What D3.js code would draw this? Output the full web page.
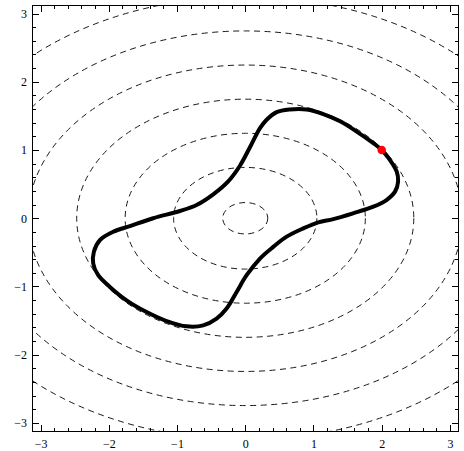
<!DOCTYPE html>
<html>
<head>
<meta charset="utf-8">
<script src="https://cdn.jsdelivr.net/npm/d3@7"></script>
<style>
  body { margin: 0; background: #fff; }
</style>
</head>
<body>
<script>
// contour ellipses (semi axes in data units, centred at the origin)
var contourRx = [0.33, 1.05, 1.76, 2.47, 3.18, 3.88, 4.59];
var contourRy = [0.23, 0.745, 1.245, 1.745, 2.245, 2.745, 3.245];

// the thick closed curve
var curveX = [-0.957, -0.713, -0.469, -0.25, -0.078, 0.069, 0.216, 0.31, 0.46, 0.655,
              0.9, 1.144, 1.39, 1.633, 1.877, 2.0, 2.12, 2.22, 2.24, 2.195,
              2.07, 1.877, 1.58, 1.29, 1.07, 0.85, 0.607, 0.41, 0.216, 0.02,
              -0.126, -0.273, -0.42, -0.616, -0.86, -1.152, -1.446, -1.74, -1.984, -2.155,
              -2.228, -2.218, -2.13, -1.935, -1.69, -1.349];
var curveY = [0.106, 0.194, 0.35, 0.54, 0.77, 1.04, 1.32, 1.44, 1.556, 1.595,
              1.595, 1.527, 1.42, 1.27, 1.10, 1.0, 0.855, 0.683, 0.536, 0.39,
              0.267, 0.169, 0.072, -0.012, -0.06, -0.149, -0.27, -0.42, -0.59, -0.835,
              -1.08, -1.324, -1.471, -1.57, -1.584, -1.506, -1.374, -1.202, -1.006, -0.835,
              -0.663, -0.49, -0.32, -0.198, -0.115, 0];

var pointX = [2];
var pointY = [1];

var majorTicks = [-3, -2, -1, 0, 1, 2, 3];
var minorTicks = [-2.8, -2.6, -2.4, -2.2, -1.8, -1.6, -1.4, -1.2, -0.8, -0.6, -0.4, -0.2,
                  0.2, 0.4, 0.6, 0.8, 1.2, 1.4, 1.6, 1.8, 2.2, 2.4, 2.6, 2.8];

var width = 464,
    height = 451;

var margin = {
    top: 5,
    bottom: 19.5,
    left: 32,
    right: 5.5,
};

var x = d3.scaleLinear()
    .domain([-3.125, 3.125])
    .range([margin.left, width - margin.right]);

var y = d3.scaleLinear()
    .domain([-3.125, 3.125])
    .range([height - margin.bottom, margin.top]);

var svg = d3.select("body").append("svg")
    .attr("width", width)
    .attr("height", height);

svg.append("clipPath")
    .attr("id", "plot-clip")
  .append("rect")
    .attr("x", x.range()[0])
    .attr("y", y.range()[1])
    .attr("width", x.range()[1] - x.range()[0])
    .attr("height", y.range()[0] - y.range()[1]);

var plot = svg.append("g")
    .attr("clip-path", "url(#plot-clip)");

// dashed contours
plot.selectAll(".contour")
    .data(contourRx)
  .enter().append("ellipse")
    .attr("class", "contour")
    .attr("cx", x(0))
    .attr("cy", y(0))
    .attr("rx", function(d) { return x(d) - x(0); })
    .attr("ry", function(d, i) { return y(0) - y(contourRy[i]); })
    .attr("fill", "none")
    .attr("stroke", "#1a1a1a")
    .attr("stroke-width", 1)
    .attr("stroke-dasharray", "6,4.5");

var pts = curveX.map(function(d, i) { return [d, curveY[i]]; });

var line = d3.line()
    .x(function(d) { return x(d[0]); })
    .y(function(d) { return y(d[1]); })
    .curve(d3.curveCatmullRomClosed.alpha(0.5));

plot.append("path")
    .datum(pts)
    .attr("d", line)
    .attr("fill", "none")
    .attr("stroke", "#000")
    .attr("stroke-width", 4)
    .attr("stroke-linejoin", "round");

plot.selectAll(".dot")
    .data(pointX)
  .enter().append("circle")
    .attr("class", "dot")
    .attr("cx", function(d) { return x(d); })
    .attr("cy", function(d, i) { return y(pointY[i]); })
    .attr("r", 4.3)
    .attr("fill", "#ff0000");

// frame ticks, inward, on all four sides
var fmt = d3.format("d");
var bottom = height - margin.bottom,
    right = width - margin.right;

function frameAxis(axis, pos, values, size, labels) {
    var g = svg.append("g")
        .attr("transform", pos)
        .call(axis.tickValues(values).tickSize(-size).tickPadding(labels ? labels : 3)
            .tickFormat(labels ? fmt : ""));
    g.attr("font-family", "'Liberation Serif', 'Times New Roman', serif")
        .attr("font-size", 12);
    g.select(".domain").remove();
    g.selectAll(".tick line")
        .attr("stroke", "#000")
        .attr("stroke-width", 1)
        .attr("shape-rendering", "crispEdges");
    g.selectAll(".tick text").attr("fill", "#000");
    return g;
}

frameAxis(d3.axisBottom(x), "translate(0," + bottom + ")", majorTicks, 6.5, 7.5);
frameAxis(d3.axisBottom(x), "translate(0," + bottom + ")", minorTicks, 3.5);
frameAxis(d3.axisLeft(y), "translate(" + margin.left + ",0)", majorTicks, 6.5, 5);
frameAxis(d3.axisLeft(y), "translate(" + margin.left + ",0)", minorTicks, 3.5);
frameAxis(d3.axisTop(x), "translate(0," + margin.top + ")", majorTicks, 6.5);
frameAxis(d3.axisTop(x), "translate(0," + margin.top + ")", minorTicks, 3.5);
frameAxis(d3.axisRight(y), "translate(" + right + ",0)", majorTicks, 6.5);
frameAxis(d3.axisRight(y), "translate(" + right + ",0)", minorTicks, 3.5);

svg.append("rect")
    .attr("x", margin.left)
    .attr("y", margin.top)
    .attr("width", right - margin.left)
    .attr("height", bottom - margin.top)
    .attr("fill", "none")
    .attr("stroke", "#000")
    .attr("stroke-width", 1)
    .attr("shape-rendering", "crispEdges");
</script>
</body>
</html>
